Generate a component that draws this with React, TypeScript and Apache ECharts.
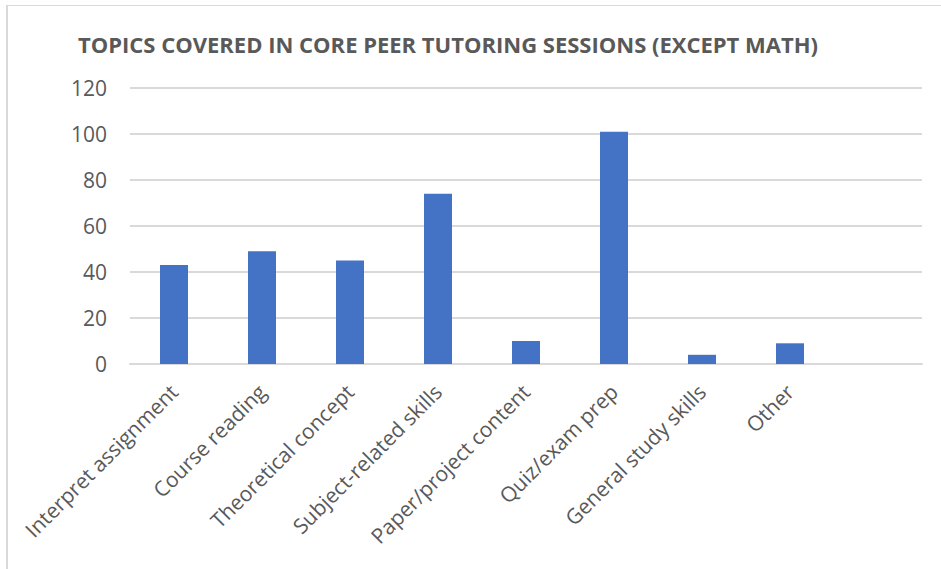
import React, { useEffect, useRef } from "react";
import * as echarts from "echarts";

const TITLE = "TOPICS COVERED IN CORE PEER TUTORING SESSIONS (EXCEPT MATH)";
const categories = [
  "Interpret assignment",
  "Course reading",
  "Theoretical concept",
  "Subject-related skills",
  "Paper/project content",
  "Quiz/exam prep",
  "General study skills",
  "Other",
  "",
];
const values: (number | null)[] = [43, 49, 45, 74, 10, 101, 4, 9, null];
const yTicks = { min: 0, max: 120, interval: 20 };

export default function App() {
  const ref = useRef<HTMLDivElement>(null);
  useEffect(() => {
    if (!ref.current) return;
    const chart = echarts.init(ref.current, undefined, { renderer: "svg" });
    chart.setOption({
      animation: false,
      backgroundColor: "#ffffff",
      graphic: [
        {
          type: "text",
          x: 448,
          y: 44,
          style: {
            text: TITLE,
            font: "bold 22px 'Open Sans'",
            fill: "#595959",
            align: "center",
            verticalAlign: "middle",
          },
        },
      ],
      grid: { left: 130, right: 19, top: 88, bottom: 205, containLabel: false },
      xAxis: {
        type: "category",
        data: categories,
        axisLine: { show: true, lineStyle: { color: "#d9d9d9", width: 2 } },
        axisTick: { show: false },
        axisLabel: {
          interval: 0,
          rotate: 45,
          margin: 24,
          color: "#595959",
          fontFamily: "Open Sans",
          fontSize: 21,
        },
      },
      yAxis: {
        type: "value",
        min: yTicks.min,
        max: yTicks.max,
        interval: yTicks.interval,
        axisLine: { show: false },
        axisTick: { show: false },
        splitLine: { lineStyle: { color: "#d9d9d9", width: 2 } },
        axisLabel: {
          margin: 23,
          color: "#595959",
          fontFamily: "Open Sans",
          fontSize: 21,
        },
      },
      series: [
        {
          type: "bar",
          data: values,
          barWidth: 28,
          itemStyle: { color: "#4472C4" },
        },
      ],
    });
    return () => chart.dispose();
  }, []);
  return (
    <div style={{ position: "fixed", left: 0, top: 0, width: 941, height: 569, background: "#fff" }}>
      <div ref={ref} style={{ position: "absolute", left: 0, top: 0, width: 941, height: 569 }} />
      <div
        style={{
          position: "absolute",
          left: 6,
          top: 5,
          width: 940,
          height: 570,
          borderLeft: "2px solid #d9d9d9",
          borderTop: "1px solid #d9d9d9",
          pointerEvents: "none",
        }}
      />
    </div>
  );
}
